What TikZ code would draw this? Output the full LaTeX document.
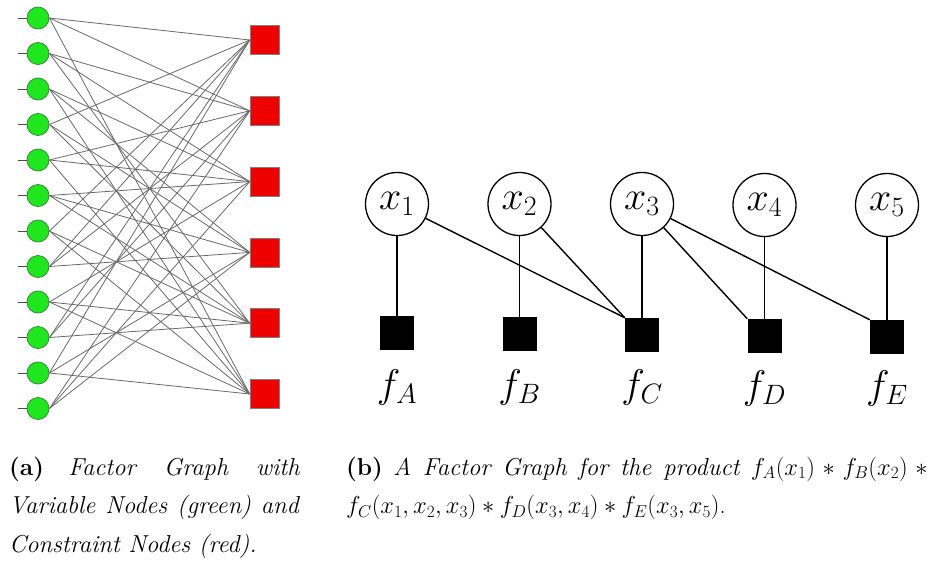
\RequirePackage{fix-cm}
\documentclass[tikz,border=0pt]{standalone}
\definecolor{vargreen}{RGB}{32,230,32}
\definecolor{varrim}{RGB}{55,140,55}
\definecolor{chkred}{RGB}{238,0,0}
\definecolor{wirecol}{RGB}{105,105,105}
\tikzset{
  varnode/.style={circle, fill=vargreen, draw=varrim, line width=0.8pt, minimum size=22pt, inner sep=0pt},
  chknode/.style={rectangle, fill=chkred, draw=gray, line width=0.6pt, minimum size=29pt, inner sep=0pt},
  wire/.style={draw=wirecol, line width=0.8pt},
  stub/.style={draw=wirecol!70!black, line width=0.8pt},
  bvar/.style={circle, draw, line width=1.3pt, minimum size=63pt, inner sep=0pt, font=\fontsize{40}{42}\selectfont},
  bfac/.style={rectangle, fill=black, minimum size=34pt, inner sep=0pt},
  blabel/.style={inner sep=0pt, font=\fontsize{40}{42}\selectfont},
  bedge/.style={line width=1.4pt},
  capt/.style={anchor=base west, inner sep=0pt, font=\fontsize{24.5}{38}\selectfont}
}
\begin{document}
\begin{tikzpicture}[x=1pt,y=-1pt]
\useasboundingbox (0,0) rectangle (937,560);

% ---- (a) Tanner graph: variable nodes, constraint nodes ----
\foreach \i in {1,...,12} {
  \node[varnode] (g\i) at (38,{18+35.5*(\i-1)}) {};
  \coordinate (s\i) at (18,{18+35.5*(\i-1)});
  \draw[stub] (s\i) -- (g\i.west);
}
\foreach \j in {1,...,6}
  \node[chknode] (r\j) at (264.5,{40+70.8*(\j-1)}) {};

\foreach \i/\j in {1/1,1/2,1/6, 2/2,2/3,2/5, 3/3,3/4,3/6, 4/1,4/4,4/5,
                   5/2,5/3,5/6, 6/3,6/4,6/5, 7/1,7/5,7/6, 8/1,8/2,8/4,
                   9/3,9/5,9/6, 10/1,10/2,10/5, 11/1,11/4,11/6, 12/2,12/3,12/4}
  \draw[wire] (g\i.east) -- (r\j.west);

% ---- (b) factor graph for f_A ... f_E ----
\node[bvar] (x1) at (397,204) {$x_1$};
\node[bvar] (x2) at (519.5,204) {$x_2$};
\node[bvar] (x3) at (642,204) {$x_3$};
\node[bvar] (x4) at (764.5,205) {$x_4$};
\node[bvar] (x5) at (887,205) {$x_5$};

\node[bfac] (fA) at (397,333) {};
\node[bfac] (fB) at (519.5,334) {};
\node[bfac] (fC) at (642,335) {};
\node[bfac] (fD) at (764.5,336) {};
\node[bfac] (fE) at (887,337) {};

\node[blabel] (lA) at (397,387) {$f_A$};
\node[blabel] (lB) at (519.5,387) {$f_B$};
\node[blabel] (lC) at (642,387) {$f_C$};
\node[blabel] (lD) at (764.5,388) {$f_D$};
\node[blabel] (lE) at (887,388) {$f_E$};

\draw[bedge] (x1) -- (fA.north);
\draw[bedge] (x2) -- (fB.north);
\draw[bedge] (x3) -- (fC.north);
\draw[bedge] (x4) -- (fD.north);
\draw[bedge] (x5) -- (fE.north);
\draw[bedge] (x1) -- (fC.north west);
\draw[bedge] (x2) -- (fC.north west);
\draw[bedge] (x3) -- (fD.north west);
\draw[bedge] (x3) -- (fE.north west);

% ---- captions ----
\node[capt] (ca1) at (9,475) {\makebox[291pt][s]{\textbf{(a)} \textit{Factor Graph with}}};
\node[capt] (ca2) at (9,513.5) {\makebox[291pt][s]{\textit{Variable Nodes (green) and}}};
\node[capt] (ca3) at (9,552) {\textit{Constraint Nodes (red).}};
\node[capt] (cb1) at (346,475) {\makebox[589pt][s]{\textbf{(b)} \textit{A Factor Graph for the product} $f_A(x_1)*f_B(x_2)*{}$}};
\node[capt] (cb2) at (346,513.5) {$f_C(x_1,x_2,x_3)*f_D(x_3,x_4)*f_E(x_3,x_5)$.};
\end{tikzpicture}
\end{document}
